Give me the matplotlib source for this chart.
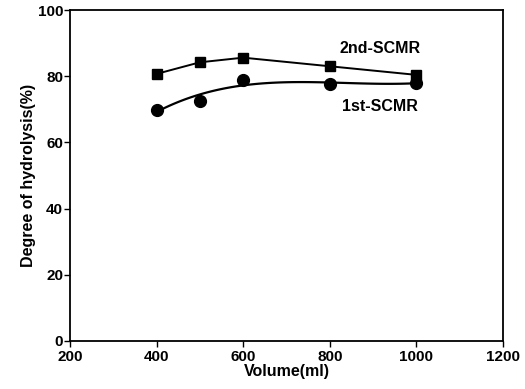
import matplotlib
matplotlib.use("Agg")
import matplotlib.pyplot as plt
import numpy as np

volume = [400, 500, 600, 800, 1000]
first_scmr = [69.8, 72.6, 79.0, 77.5, 78.0]
second_scmr = [80.7, 84.2, 85.6, 83.0, 80.4]

plt.rcParams['font.family'] = ['Liberation Sans', 'DejaVu Sans']
plt.rcParams['font.weight'] = 'bold'

fig = plt.figure(figsize=(5.25, 3.89), dpi=100)
ax = fig.add_axes([70 / 525, 1 - 341 / 389, 433 / 525, 331 / 389])

# 2nd reactor: straight segments
ax.plot(volume, second_scmr, color="black", marker="s", markersize=7, linewidth=1.4)

# 1st reactor: points with a smooth fitted curve
ax.plot(volume, first_scmr, "o", color="black", markersize=8.5)
coef = np.polyfit(volume, first_scmr, 3)
xs = np.linspace(400, 1000, 100)
ax.plot(xs, np.polyval(coef, xs), color="black", linewidth=1.6)

ax.text(916, 88.3, "2nd-SCMR", ha="center", va="center", fontsize=11.5, fontweight="bold")
ax.text(916, 70.7, "1st-SCMR", ha="center", va="center", fontsize=11.5, fontweight="bold")

ax.set_xlim(200, 1200)
ax.set_ylim(0, 100)
ax.set_xticks([200, 400, 600, 800, 1000, 1200])
ax.set_yticks([0, 20, 40, 60, 80, 100])
ax.tick_params(direction="out", length=4, width=1, labelsize=11, pad=1)
ax.tick_params(axis="x", pad=2.5)
for lbl in ax.get_xticklabels() + ax.get_yticklabels():
    lbl.set_fontweight("bold")
for s in ax.spines.values():
    s.set_linewidth(1.3)

ax.set_xlabel("Volume(ml)", fontsize=11.5, fontweight="bold", labelpad=0)
ax.set_ylabel("Degree of hydrolysis(%)", fontsize=11.5, fontweight="bold", labelpad=1)

fig.savefig("out.png", dpi=100)
